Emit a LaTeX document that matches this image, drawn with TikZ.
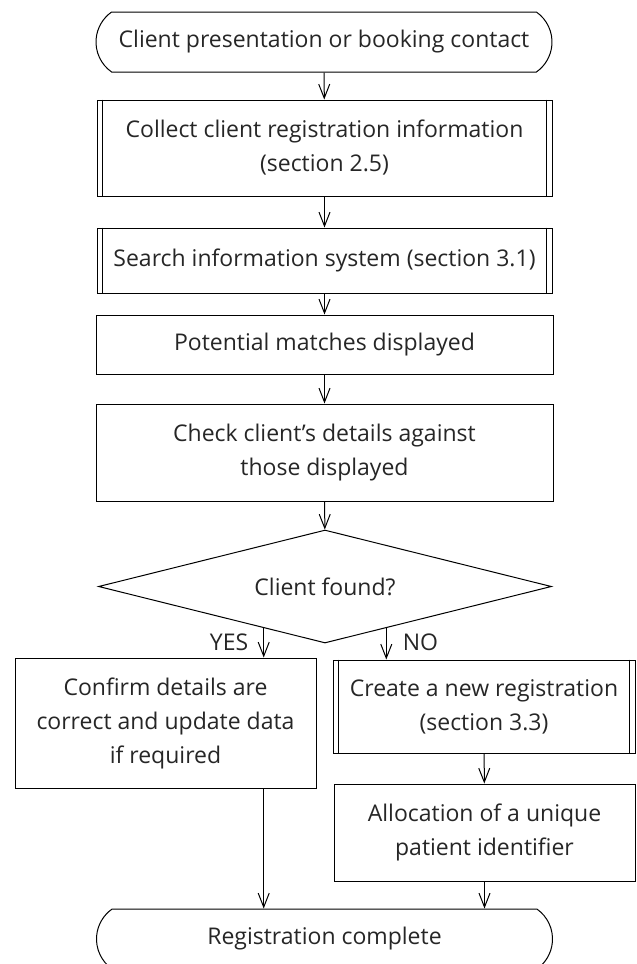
\documentclass[tikz,border=0pt]{standalone}
\usepackage{fontspec}
\setmainfont{Open Sans}
\usepackage{tikz}
\usetikzlibrary{arrows.meta,shapes.geometric,shapes.misc,calc}

\begin{document}
\begin{tikzpicture}[x=1pt,y=-1pt,
    every node/.style={text=black!85,font=\fontsize{23}{34}\selectfont,align=center,line width=1pt,inner sep=0pt},
    term/.style={draw,rounded rectangle,rounded rectangle arc length=110,minimum width=456pt,minimum height=60pt},
    proc/.style={draw,rectangle,minimum height=#1},
    dec/.style={draw,diamond,aspect=4,minimum width=453pt,minimum height=113pt},
    arr/.style={line width=1pt,-{Straight Barb[length=14pt,width=11pt,line width=1pt]}},
    lab/.style={font=\fontsize{23}{26}\selectfont}]

      \useasboundingbox (0,0) rectangle (637,964);

      % start
      \node (start) at (324,42) [term] {Client presentation or booking contact};

      % main column
      \node (coll) at (324.5,148) [proc=96pt,minimum width=455pt] {Collect client registration information\\(section 2.5)};
      \node (search) at (324.5,260.5) [proc=65pt,minimum width=455pt] {Search information system (section 3.1)};
      \node (match) at (324.5,344.5) [proc=59pt,minimum width=457pt] {Potential matches displayed};
      \node (check) at (324.5,452.5) [proc=97pt,minimum width=457pt] {Check client's details against\\those displayed};
      \node (found) at (325,586.5) [dec] {Client found?};

      % yes / no
      \node (conf) at (165.5,723) [proc=130pt,minimum width=301pt] {Confirm details are\\correct and update data\\if required};
      \node (create) at (484,706.5) [proc=93pt,minimum width=302pt] {Create a new registration\\(section 3.3)};
      \node (alloc) at (484.5,832.5) [proc=97pt,minimum width=301pt] {Allocation of a unique\\patient identifier};

      % end
      \node (fin) at (324.5,939) [term] {Registration complete};

      % double sides of the sub-process boxes
      \foreach \b in {coll,search,create}{
        \draw[line width=1pt] ([xshift=6pt]\b.north west) -- ([xshift=6pt]\b.south west);
        \draw[line width=1pt] ([xshift=-6pt]\b.north east) -- ([xshift=-6pt]\b.south east);
      }

      % connectors
      \draw[arr] (start) -- (coll);
      \draw[arr] (coll) -- (search);
      \draw[arr] (search) -- (match);
      \draw[arr] (match) -- (check);
      \draw[arr] (check) -- (found);

      \path ($(found.west)!0.73!(found.south)$) coordinate (yes);
      \path ($(found.south)!0.27!(found.east)$) coordinate (no);
      \draw[arr] (yes) -- (yes |- conf.north);
      \draw[arr] (no) -- (no |- create.north);
      \node (yeslab) [lab,anchor=east] at ($(yes)+(-15,14)$) {YES};
      \node (nolab) [lab,anchor=west] at ($(no)+(16,14)$) {NO};

      \draw[arr] (create) -- (alloc);
      \draw[arr] (yes |- conf.south) -- (yes |- fin.north);
      \draw[arr] (alloc) -- (alloc.south |- fin.north);

    \end{tikzpicture}
\end{document}
